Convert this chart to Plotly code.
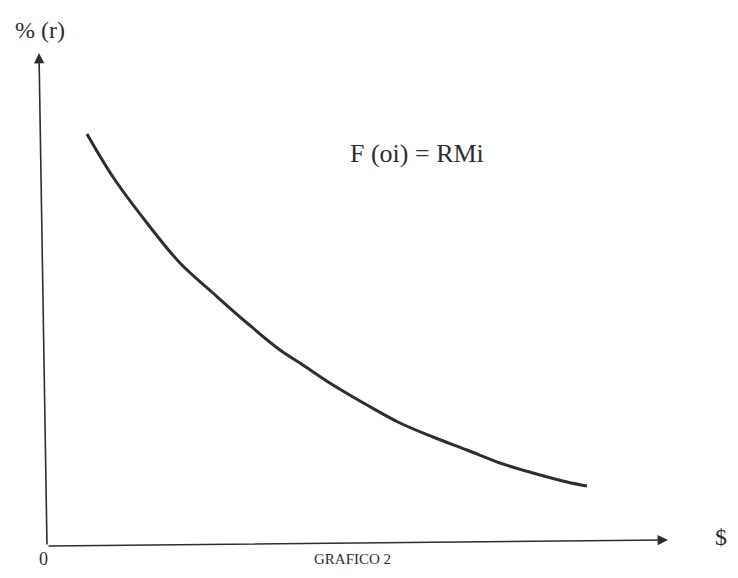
import plotly.graph_objects as go

# Curve (x: amount "$", y: "% (r)"), in arbitrary units
curve_x = [40, 66, 100, 133, 166, 200, 233, 253, 286, 320, 353, 386, 420, 453, 486, 520, 540]
curve_y = [412, 369, 323, 283, 253, 223, 196, 183, 161, 141, 123, 109, 96, 83, 73, 64, 60]

y_axis_label = "% (r)"
x_axis_label = "$"
origin_label = "0"
curve_label = "F (oi) = RMi"
caption = "GRAFICO 2"

ink = "#2e2e2e"
font = "Liberation Serif"

fig = go.Figure()
fig.add_trace(go.Scatter(
    x=curve_x, y=curve_y, mode="lines",
    line=dict(color=ink, width=3, shape="spline", smoothing=1.0),
    hoverinfo="skip", showlegend=False,
))

annotations = [
    # y axis arrow
    dict(x=-8, y=493, ax=0, ay=0, xref="x", yref="y", axref="x", ayref="y",
         showarrow=True, arrowhead=2, arrowsize=1.3, arrowwidth=1.6, arrowcolor=ink, text=""),
    # x axis arrow
    dict(x=621, y=6, ax=0, ay=0, xref="x", yref="y", axref="x", ayref="y",
         showarrow=True, arrowhead=2, arrowsize=1.3, arrowwidth=1.6, arrowcolor=ink, text=""),
    dict(x=-7, y=516, xref="x", yref="y", text=y_axis_label, showarrow=False,
         font=dict(family=font, size=24, color=ink), xanchor="center", yanchor="middle"),
    dict(x=674, y=9, xref="x", yref="y", text=x_axis_label, showarrow=False,
         font=dict(family=font, size=24, color=ink), xanchor="center", yanchor="middle"),
    dict(x=-4, y=-13, xref="x", yref="y", text=origin_label, showarrow=False,
         font=dict(family=font, size=18, color=ink), xanchor="center", yanchor="middle"),
    dict(x=370, y=393, xref="x", yref="y", text=curve_label, showarrow=False,
         font=dict(family=font, size=26, color=ink), xanchor="center", yanchor="middle"),
    dict(x=305, y=-13, xref="x", yref="y", text=caption, showarrow=False,
         font=dict(family=font, size=15, color=ink), xanchor="center", yanchor="middle"),
]

fig.update_layout(
    width=722, height=562,
    margin=dict(l=0, r=0, t=0, b=0),
    paper_bgcolor="white", plot_bgcolor="white",
    xaxis=dict(range=[-39, 683], visible=False, fixedrange=True),
    yaxis=dict(range=[-24, 538], visible=False, fixedrange=True),
    annotations=annotations,
    showlegend=False,
)

fig.write_html("out.html")
